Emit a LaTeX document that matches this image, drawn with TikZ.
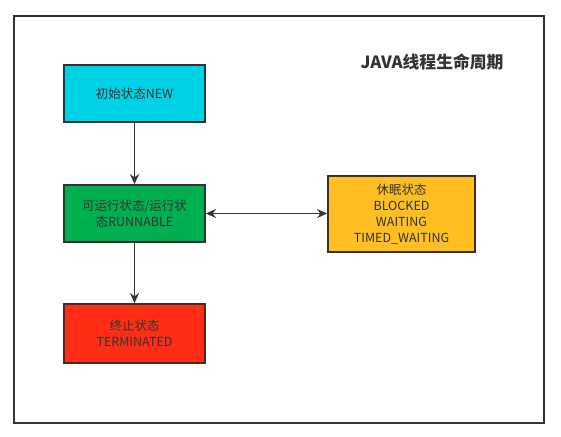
\documentclass[tikz,border=0pt]{standalone}
\usepackage{fontspec}
\setmainfont{Noto Sans CJK SC}
\usetikzlibrary{arrows.meta}
\definecolor{edge}{HTML}{333333}
\definecolor{cnew}{HTML}{00D2E6}
\definecolor{crun}{HTML}{00B050}
\definecolor{cterm}{HTML}{FF2D16}
\definecolor{cblk}{HTML}{FFBE22}
\tikzset{
  state/.style={draw=edge, line width=1.8pt, minimum width=141pt, text=edge, align=center, font=\fontsize{12.5}{16}\selectfont, inner sep=2pt},
  conn/.style={draw=edge, line width=1.9pt, -{Stealth[length=10pt,width=9pt]}}
}
\begin{document}
\begin{tikzpicture}[x=1pt,y=-1pt]
\useasboundingbox (0,0) rectangle (561,436);
\node[draw=edge, line width=1.1pt, minimum width=530pt, minimum height=407pt, inner sep=0pt] (frame) at (279,219.5) {};
\node[font=\fontsize{16.8}{19}\selectfont\bfseries, text=edge] (title) at (432,62) {JAVA线程生命周期};
\node[state, fill=cnew, minimum height=57pt] (new) at (134.5,93.5) {初始状态NEW};
\node[state, fill=crun, minimum height=57pt] (run) at (134.5,213.5) {可运行状态/运行状\\态RUNNABLE};
\node[state, fill=cterm, minimum height=59pt] (term) at (134.5,333.5) {终止状态\\TERMINATED};
\node[state, fill=cblk, minimum width=147pt, minimum height=76pt] (blk) at (401.5,214) {休眠状态\\BLOCKED\\WAITING\\TIMED\_WAITING};
\draw[conn] (new) -- (run);
\draw[conn] (run) -- (term);
\draw[conn, {Stealth[length=10pt,width=9pt]}-{Stealth[length=10pt,width=9pt]}] (run) -- (run -| blk.west);
\end{tikzpicture}
\end{document}
